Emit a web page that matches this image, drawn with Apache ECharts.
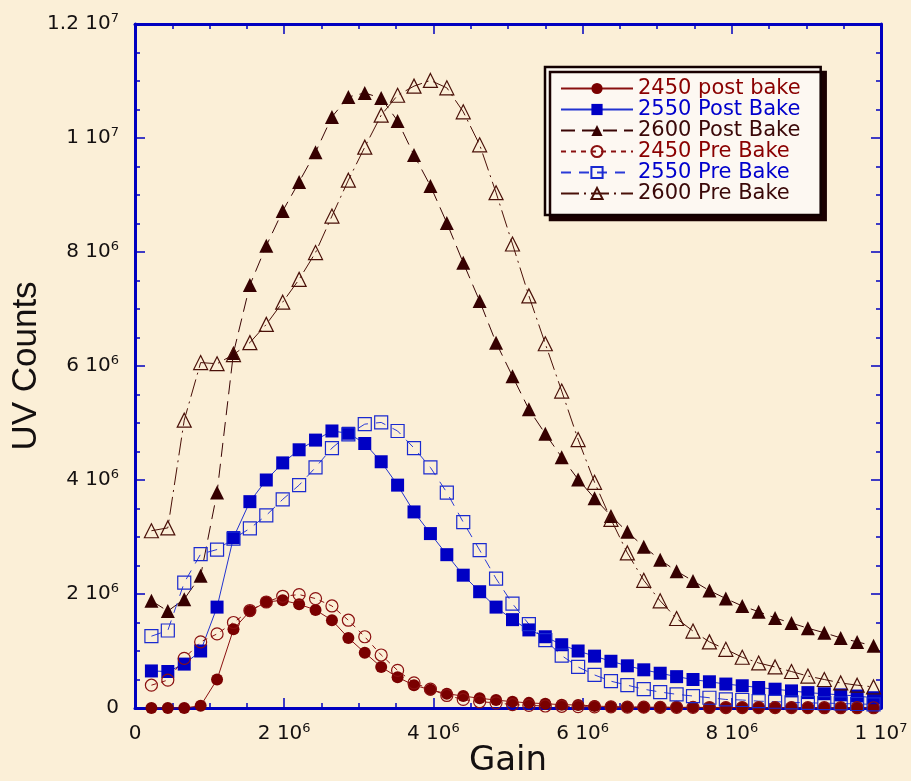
<!DOCTYPE html>
<html>
<head>
<meta charset="utf-8">
<script src="https://cdn.jsdelivr.net/npm/echarts@6/dist/echarts.min.js"></script>
<style>
html,body{margin:0;padding:0;background:#fbefd7;}
#c{width:911px;height:781px;}
</style>
</head>
<body>
<div id="c"></div>
<script>
// Gain values (units of 1e6)
const gainM = [0.22,0.44,0.66,0.88,1.10,1.32,1.54,1.76,1.98,2.20,2.42,2.64,2.86,3.08,3.30,
  3.52,3.74,3.96,4.18,4.40,4.62,4.84,5.06,5.28,5.50,5.72,5.94,6.16,6.38,6.60,
  6.82,7.04,7.26,7.48,7.70,7.92,8.14,8.36,8.58,8.80,9.02,9.24,9.46,9.68,9.90];

// UV counts (units of 1e6)
const post2450 = [0.00,0.00,0.00,0.04,0.50,1.38,1.70,1.86,1.89,1.82,1.72,1.54,1.23,0.97,0.72,
  0.54,0.40,0.32,0.25,0.21,0.17,0.14,0.11,0.09,0.075,0.058,0.053,0.035,0.023,0.018,
  0.015,0.013,0.012,0.011,0.010,0.009,0.008,0.008,0.007,0.007,0.006,0.006,0.005,0.005,0.005];
const post2550 = [0.65,0.64,0.77,1.00,1.77,2.99,3.62,4.00,4.30,4.53,4.70,4.86,4.82,4.64,4.32,
  3.91,3.44,3.06,2.69,2.33,2.04,1.77,1.55,1.37,1.25,1.11,1.00,0.91,0.82,0.74,
  0.67,0.61,0.55,0.50,0.46,0.42,0.39,0.36,0.33,0.30,0.27,0.25,0.23,0.21,0.18];
const post2600 = [1.88,1.70,1.91,2.32,3.78,6.23,7.42,8.11,8.72,9.23,9.75,10.37,10.72,10.79,10.70,
  10.30,9.70,9.16,8.51,7.81,7.14,6.41,5.82,5.24,4.81,4.40,4.01,3.68,3.37,3.09,
  2.83,2.60,2.40,2.23,2.06,1.92,1.79,1.69,1.58,1.49,1.40,1.32,1.23,1.16,1.09];
const pre2450 = [0.40,0.49,0.87,1.16,1.30,1.50,1.71,1.86,1.96,1.99,1.92,1.79,1.54,1.25,0.93,
  0.66,0.44,0.33,0.22,0.15,0.11,0.09,0.06,0.045,0.035,0.03,0.025,0.02,0.02,0.015,
  0.014,0.012,0.011,0.010,0.009,0.008,0.008,0.007,0.007,0.006,0.006,0.005,0.005,0.005,0.004];
const pre2550 = [1.26,1.36,2.20,2.70,2.78,2.97,3.15,3.38,3.66,3.91,4.22,4.56,4.80,4.98,5.01,
  4.86,4.56,4.22,3.78,3.26,2.77,2.27,1.83,1.47,1.19,0.92,0.72,0.58,0.47,0.40,
  0.33,0.28,0.24,0.21,0.18,0.15,0.14,0.12,0.11,0.10,0.09,0.085,0.08,0.07,0.065];
const pre2600 = [3.11,3.16,5.05,6.06,6.04,6.20,6.41,6.73,7.12,7.52,7.99,8.63,9.26,9.84,10.40,
  10.75,10.91,11.01,10.88,10.46,9.88,9.04,8.14,7.23,6.39,5.56,4.71,3.96,3.31,2.72,
  2.24,1.88,1.57,1.35,1.16,1.03,0.89,0.79,0.72,0.64,0.56,0.50,0.44,0.40,0.37];

const seriesNames = ['2450 post bake','2550 Post Bake','2600 Post Bake','2450 Pre Bake','2550 Pre Bake','2600 Pre Bake'];

// Tick labels: [mantissa text, exponent]
const xTickLabels = [['0',''],['2 10','6'],['4 10','6'],['6 10','6'],['8 10','6'],['1 10','7']];
const yTickLabels = [['0',''],['2 10','6'],['4 10','6'],['6 10','6'],['8 10','6'],['1 10','7'],['1.2 10','7']];

const SCALE = 1e6;
function pairs(ys){ return ys.map((v,i)=>[gainM[i]*SCALE, v*SCALE]); }
function fmt(list, step){
  return function(val){
    const idx = Math.round(val/step);
    const t = list[idx];
    if(!t) return '';
    return t[1] ? '{b|' + t[0] + '}{s|' + t[1] + '}' : '{b|' + t[0] + '}';
  };
}
const rich = {
  b:{fontFamily:'DejaVu Sans',fontSize:20,lineHeight:24,color:'#141010'},
  s:{fontFamily:'DejaVu Sans',fontSize:13,lineHeight:13,verticalAlign:'top',color:'#141010'}
};

const RED='#7a0000', BLUE='#0000c4', BROWN='#360000', BROWN2='#4a1008';
const FRAME='#0000c0';

function mk(name, data, symbol, fill, stroke, lineColor, lineType){
  return {
    name, type:'line', data: pairs(data), symbol, symbolSize: symbol==='triangle'?14:(symbol==='rect'?13:12),
    xAxisIndex:0, yAxisIndex:0,
    itemStyle:{color: fill, borderColor: stroke, borderWidth: fill==='transparent'?1.2:0},
    lineStyle:{color: lineColor, width:1, type: lineType},
    emphasis:{disabled:true}, animation:false
  };
}

const series = [
  mk(seriesNames[0], post2450, 'circle', RED, RED, '#8a1010', 'solid'),
  mk(seriesNames[1], post2550, 'rect', BLUE, BLUE, '#2233d0', 'solid'),
  mk(seriesNames[2], post2600, 'triangle', BROWN, BROWN, '#3a0505', [14,7]),
  mk(seriesNames[3], pre2450, 'circle', 'transparent', '#8a1010', '#8a1010', [5,5]),
  mk(seriesNames[4], pre2550, 'rect', 'transparent', '#1a2ad0', '#2a3ad8', [10,8]),
  mk(seriesNames[5], pre2600, 'triangle', 'transparent', BROWN2, BROWN2, [18,5,2,5])
];

const textColors = ['#8a0000','#0000cc','#3a0808','#8a0000','#0000cc','#3a0808'];

const axisCommon = {
  type:'value', min:0,
  axisLine:{show:true, onZero:false, lineStyle:{color:FRAME, width:3}},
  axisTick:{show:true, inside:true, length:10, lineStyle:{color:FRAME, width:1.5}},
  minorTick:{show:true, splitNumber:4, length:5, lineStyle:{color:FRAME, width:1.5}},
  splitLine:{show:false}
};

const chart = echarts.init(document.getElementById('c'), null, {renderer:'canvas'});
chart.setOption({
  backgroundColor:'#fbefd7',
  animation:false,
  grid:{left:135, right:30, top:24, bottom:73, show:false, containLabel:false, outerBoundsMode:'none'},
  xAxis:[
    Object.assign({}, axisCommon, {position:'bottom', max:1e7, interval:2e6,
      name:'Gain', nameLocation:'middle', nameGap:36, nameMoveOverlap:false,
      nameTextStyle:{fontFamily:'DejaVu Sans', fontSize:34, color:'#141010'},
      axisLabel:{show:true, margin:14, formatter: fmt(xTickLabels, 2e6), rich, showMinLabel:true, showMaxLabel:true, hideOverlap:false}}),
    Object.assign({}, axisCommon, {position:'top', max:1e7, interval:2e6, axisLabel:{show:false}})
  ],
  yAxis:[
    Object.assign({}, axisCommon, {position:'left', max:1.2e7, interval:2e6,
      name:'UV Counts', nameLocation:'middle', nameGap:91, nameRotate:90, nameMoveOverlap:false,
      nameTextStyle:{fontFamily:'Liberation Sans', fontSize:35, color:'#141010'},
      axisLabel:{show:true, margin:16, formatter: fmt(yTickLabels, 2e6), rich}}),
    Object.assign({}, axisCommon, {position:'right', max:1.2e7, interval:2e6, axisLabel:{show:false}})
  ],
  legend:{
    show:true, orient:'vertical', left:545, top:67,
    itemWidth:72, itemHeight:14, itemGap:0,
    padding:[11,20,11,15],
    backgroundColor:'#fdf8f2', borderColor:'#120000', borderWidth:2.5,
    shadowColor:'#1a0000', shadowBlur:0, shadowOffsetX:5, shadowOffsetY:5,
    selectedMode:false,
    textStyle:{fontFamily:'DejaVu Sans', fontSize:21, lineHeight:20.5, padding:[0,0,0,0]},
    data: seriesNames.map((n,i)=>({name:n, textStyle:{color:textColors[i]}}))
  },
  series
});
</script>
</body>
</html>
